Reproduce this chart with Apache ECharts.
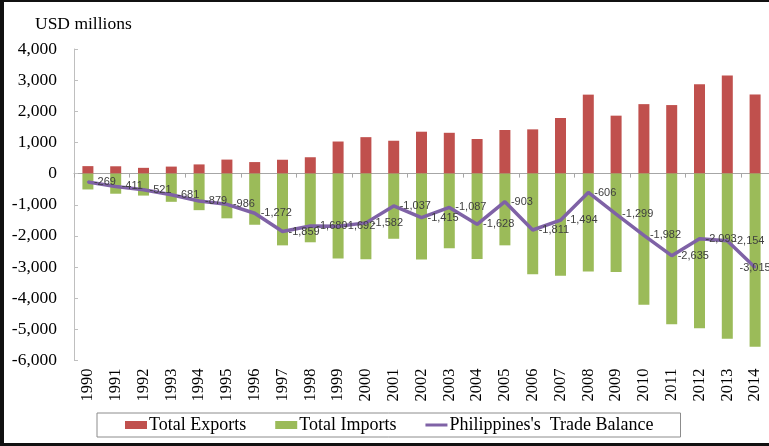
<!DOCTYPE html>
<html>
<head>
<meta charset="utf-8">
<script src="https://cdn.jsdelivr.net/npm/echarts@6/dist/echarts.min.js"></script>
<style>
  html, body { margin: 0; padding: 0; background: #fff; }
  #chart { width: 769px; height: 446px; }
</style>
</head>
<body>
<div id="chart"></div>
<script>
// Philippines trade, USD millions
const years = ['1990','1991','1992','1993','1994','1995','1996','1997','1998','1999',
  '2000','2001','2002','2003','2004','2005','2006','2007','2008','2009',
  '2010','2011','2012','2013','2014'];
const totalExports = [240, 235, 185, 225, 295, 450, 370, 445, 525, 1030,
  1170, 1055, 1345, 1310, 1110, 1400, 1420, 1785, 2535, 1860,
  2230, 2200, 2870, 3150, 2540];
const totalImports = [-509, -646, -706, -906, -1174, -1436, -1642, -2304, -2205, -2722,
  -2752, -2092, -2760, -2397, -2738, -2303, -3231, -3279, -3141, -3159,
  -4212, -4835, -4963, -5304, -5555];
const tradeBalance = [-269, -411, -521, -681, -879, -986, -1272, -1859, -1680, -1692,
  -1582, -1037, -1415, -1087, -1628, -903, -1811, -1494, -606, -1299,
  -1982, -2635, -2093, -2154, -3015];
const yTicks = { min: -6000, max: 4000, step: 1000 };

const serif = '"Liberation Serif", "Times New Roman", serif';
const fmt = v => Number(v).toLocaleString('en-US');

// last label sits on its point instead of to the right
const balanceData = tradeBalance.map((v, i) =>
  i === tradeBalance.length - 1
    ? { value: v, label: { position: 'inside', offset: [-1, 1] } }
    : v);

const chart = echarts.init(document.getElementById('chart'), null, { renderer: 'canvas' });
chart.setOption({
  animation: false,
  backgroundColor: '#ffffff',
  grid: { left: 74, right: -5, top: 49, bottom: 85.5, containLabel: false },
  legend: {
    left: 97, top: 413,
    padding: [3, 27, 3, 28],
    borderColor: '#8c8c8c', borderWidth: 1,
    itemWidth: 22, itemHeight: 8, itemGap: 29,
    textStyle: { fontFamily: serif, fontSize: 18, color: '#000', padding: [0, 0, 0, -3] },
    data: [
      { name: 'Total Exports', icon: 'rect' },
      { name: 'Total Imports', icon: 'rect' },
      { name: "Philippines's  Trade Balance", icon: 'path://M0,0H22V3H0Z', itemStyle: { color: '#7f62a6' } }
    ]
  },
  graphic: [
    { type: 'text', left: 35, top: 15, style: { text: 'USD millions', font: '17.5px ' + serif, fill: '#000' } },
    { type: 'rect', shape: { x: 0, y: 0, width: 769, height: 2 }, style: { fill: '#111' } },
    { type: 'rect', shape: { x: 0, y: 0, width: 4, height: 446 }, style: { fill: '#111' } },
    { type: 'rect', shape: { x: 0, y: 443, width: 769, height: 3 }, style: { fill: '#111' } }
  ],
  xAxis: [
    {
      type: 'category', data: years, position: 'bottom',
      axisLine: { show: false, onZero: false }, axisTick: { show: false },
      axisLabel: { rotate: 90, margin: 8, fontFamily: serif, fontSize: 16.5, color: '#000' }
    },
    {
      type: 'category', data: years, position: 'top',
      axisLine: { show: true, onZero: true, lineStyle: { color: '#a6a6a6', width: 1 } },
      axisTick: { show: true, inside: true, length: 4, lineStyle: { color: '#a6a6a6' } },
      axisLabel: { show: false }
    }
  ],
  yAxis: {
    type: 'value', min: yTicks.min, max: yTicks.max, interval: yTicks.step,
    splitLine: { show: false },
    axisLine: { show: true, lineStyle: { color: '#bfbfbf' } },
    axisTick: { show: true, inside: true, length: 4, lineStyle: { color: '#bfbfbf' } },
    axisLabel: { margin: 17, fontFamily: serif, fontSize: 17.5, color: '#000', formatter: fmt }
  },
  series: [
    {
      name: 'Total Exports', type: 'bar', stack: 'trade', barWidth: 11,
      itemStyle: { color: '#c0504d' }, data: totalExports
    },
    {
      name: 'Total Imports', type: 'bar', stack: 'trade', barWidth: 11,
      itemStyle: { color: '#9bbb59' }, data: totalImports
    },
    {
      name: "Philippines's  Trade Balance", type: 'line',
      symbol: 'circle', symbolSize: 2, showSymbol: true,
      lineStyle: { color: '#7f62a6', width: 3.5 }, itemStyle: { color: '#7f62a6' },
      label: {
        show: true, position: 'right', distance: 5,
        fontFamily: '"Liberation Sans", Arial, sans-serif', fontSize: 11, color: '#404040',
        formatter: p => fmt(p.value)
      },
      labelLayout: { hideOverlap: false },
      data: balanceData, z: 5
    }
  ]
});
</script>
</body>
</html>
